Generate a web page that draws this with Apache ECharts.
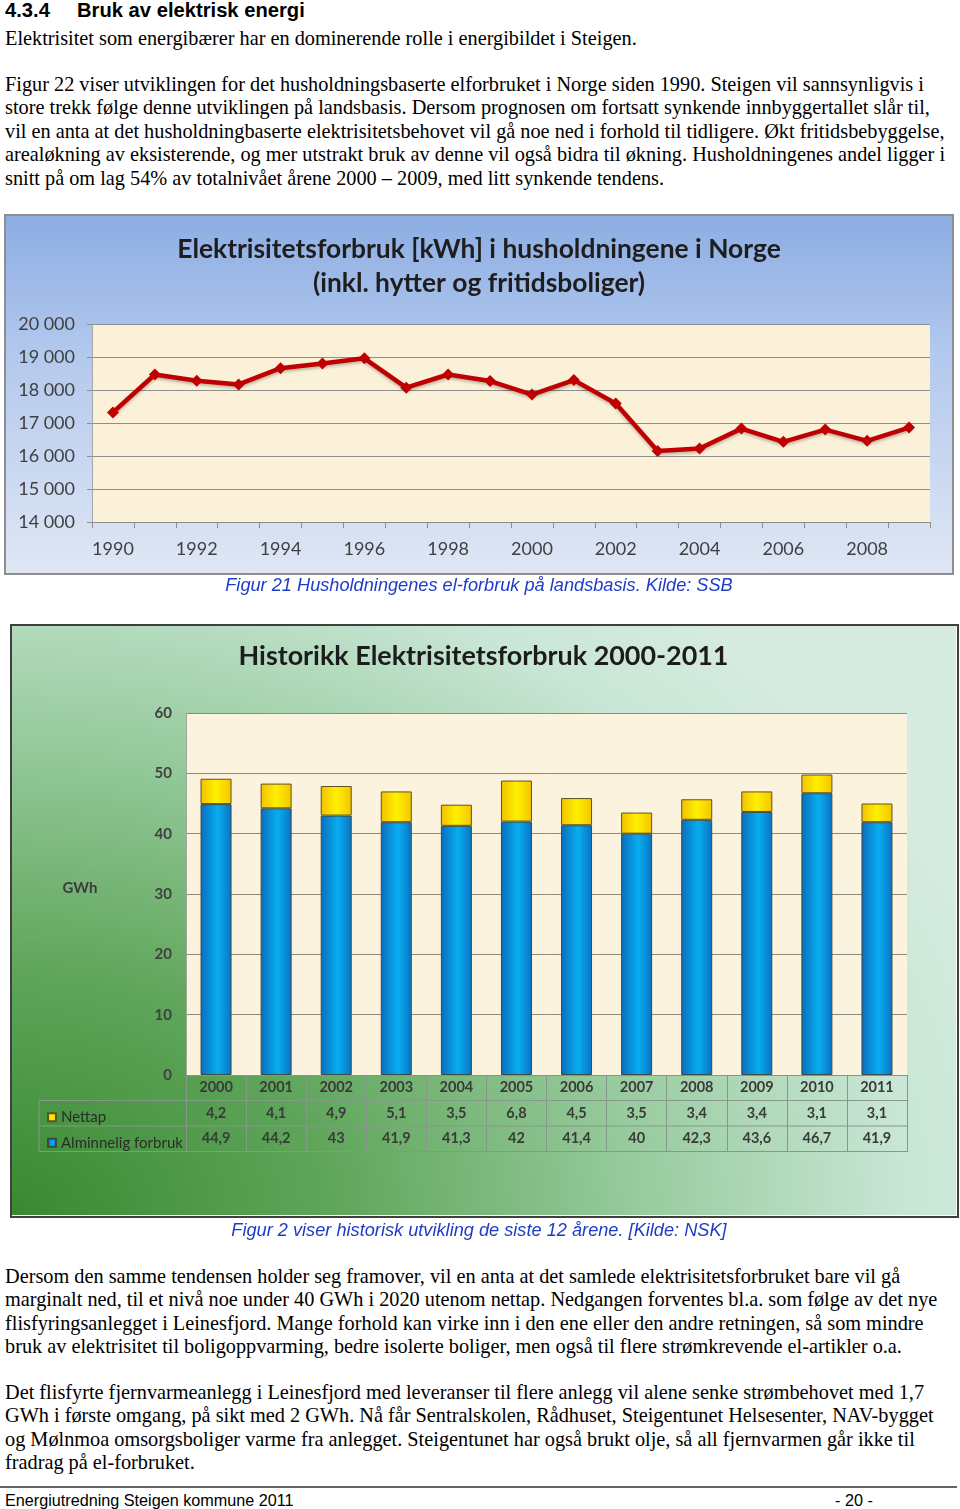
<!DOCTYPE html>
<html>
<head>
<meta charset="utf-8">
<script src="https://cdn.jsdelivr.net/npm/echarts@6/dist/echarts.min.js"></script>
<style>
  html, body { margin: 0; padding: 0; background: #fff; }
  body { position: relative; width: 960px; height: 1509px; overflow: hidden; }
  .abs { position: absolute; }
  .body-text { position: absolute; left: 5px; width: 950px; font-family: "Liberation Serif", "Times New Roman", serif; font-size: 20.3px; line-height: 23.4px; color: #000; white-space: nowrap; }
  .head { position: absolute; top: -1px; font-family: "Liberation Sans", Arial, sans-serif; font-weight: bold; font-size: 20.2px; line-height: 22px; color: #000; }
  .caption { position: absolute; left: 0; width: 958px; text-align: center; font-family: "Liberation Sans", Arial, sans-serif; font-style: italic; font-size: 18.2px; line-height: 22px; color: #1f3cc8; }
  .foot { position: absolute; top: 1490px; font-family: "Liberation Sans", Arial, sans-serif; font-size: 16.2px; line-height: 20px; color: #000; }
  #c1 { position: absolute; left: 5px; top: 215px; width: 948px; height: 359px; background: linear-gradient(180deg, #8cade3 0%, #b4c9ee 40%, #dfe7f4 100%); }
  #c1b { position: absolute; left: 4px; top: 214px; width: 946px; height: 357px; border: 2px solid #8e8e8e; pointer-events: none; }
  #c2 { position: absolute; left: 11px; top: 625px; width: 945px; height: 590px; background: radial-gradient(ellipse 1050px 800px at 0% 100%, #398931 0%, #5ea559 30%, #98cb9e 60%, #c8e6d5 85%, #d6ece0 100%); }
  #c2b { position: absolute; left: 10px; top: 624px; width: 945px; height: 590px; border: 2px solid #3f3f3f; pointer-events: none; }
</style>
</head>
<body>
<div class="head" style="left:5px;">4.3.4</div>
<div class="head" style="left:77px;">Bruk av elektrisk energi</div>

<div class="body-text" style="top:27px;">Elektrisitet som energibærer har en dominerende rolle i energibildet i Steigen.</div>

<div class="body-text" style="top:73px;">
<div>Figur 22 viser utviklingen for det husholdningsbaserte elforbruket i Norge siden 1990. Steigen vil sannsynligvis i</div>
<div>store trekk følge denne utviklingen på landsbasis. Dersom prognosen om fortsatt synkende innbyggertallet slår til,</div>
<div>vil en anta at det husholdningbaserte elektrisitetsbehovet vil gå noe ned i forhold til tidligere. Økt fritidsbebyggelse,</div>
<div>arealøkning av eksisterende, og mer utstrakt bruk av denne vil også bidra til økning. Husholdningenes andel ligger i</div>
<div>snitt på om lag 54% av totalnivået årene 2000 – 2009, med litt synkende tendens.</div>
</div>

<div id="c1"></div>
<div id="c1b"></div>
<div class="caption" style="top:574px;">Figur 21 Husholdningenes el-forbruk på landsbasis. Kilde: SSB</div>

<div id="c2"></div>
<div id="c2b"></div>
<div class="caption" style="top:1219px;">Figur 2 viser historisk utvikling de siste 12 årene. [Kilde: NSK]</div>

<div class="body-text" style="top:1265px;">
<div>Dersom den samme tendensen holder seg framover, vil en anta at det samlede elektrisitetsforbruket bare vil gå</div>
<div>marginalt ned, til et nivå noe under 40 GWh i 2020 utenom nettap. Nedgangen forventes bl.a. som følge av det nye</div>
<div>flisfyringsanlegget i Leinesfjord. Mange forhold kan virke inn i den ene eller den andre retningen, så som mindre</div>
<div>bruk av elektrisitet til boligoppvarming, bedre isolerte boliger, men også til flere strømkrevende el-artikler o.a.</div>
</div>

<div class="body-text" style="top:1381px;">
<div>Det flisfyrte fjernvarmeanlegg i Leinesfjord med leveranser til flere anlegg vil alene senke strømbehovet med 1,7</div>
<div>GWh i første omgang, på sikt med 2 GWh. Nå får Sentralskolen, Rådhuset, Steigentunet Helsesenter, NAV-bygget</div>
<div>og Mølnmoa omsorgsboliger varme fra anlegget. Steigentunet har også brukt olje, så all fjernvarmen går ikke til</div>
<div>fradrag på el-forbruket.</div>
</div>

<div class="abs" style="left:0;top:1486px;width:957px;height:2px;background:#666;"></div>
<div class="foot" style="left:5px;">Energiutredning Steigen kommune 2011</div>
<div class="foot" style="left:835px;">- 20 -</div>

<script>
// ---------- Data: chart 1 (Elektrisitetsforbruk i husholdningene i Norge) ----------
const years1 = ['1990','1991','1992','1993','1994','1995','1996','1997','1998','1999',
                '2000','2001','2002','2003','2004','2005','2006','2007','2008','2009'];
const use1 = [17320, 18470, 18280, 18170, 18660, 18800, 18960, 18070, 18470, 18270,
              17860, 18300, 17590, 16150, 16230, 16830, 16430, 16800, 16460, 16860];
const yMin1 = 14000, yMax1 = 20000, yStep1 = 1000;

// ---------- Data: chart 2 (Historikk Elektrisitetsforbruk 2000-2011) ----------
const years2 = ['2000','2001','2002','2003','2004','2005','2006','2007','2008','2009','2010','2011'];
const nettap = [4.2, 4.1, 4.9, 5.1, 3.5, 6.8, 4.5, 3.5, 3.4, 3.4, 3.1, 3.1];
const alminnelig = [44.9, 44.2, 43, 41.9, 41.3, 42, 41.4, 40, 42.3, 43.6, 46.7, 41.9];
const yMin2 = 0, yMax2 = 60, yStep2 = 10;

function thousands(v) { return String(v).replace(/\B(?=(\d{3})+(?!\d))/g, ' '); }
function comma(v) { return String(v).replace('.', ','); }

// ---------- Chart 1 ----------
const c1 = echarts.init(document.getElementById('c1'), null, { renderer: 'canvas' });
c1.setOption({
  animation: false,
  backgroundColor: 'transparent',
  title: {
    text: 'Elektrisitetsforbruk [kWh] i husholdningene i Norge\n(inkl. hytter og fritidsboliger)',
    left: 'center', top: 12,
    textStyle: { fontFamily: 'Lato', fontWeight: 'bold', fontSize: 26.4, lineHeight: 34, color: '#1e1e1e' }
  },
  grid: { left: 87, right: 23, top: 109, bottom: 52, show: true, backgroundColor: '#fbf1d8', borderWidth: 0 },
  xAxis: {
    type: 'category', data: years1, boundaryGap: true,
    axisLine: { lineStyle: { color: '#8c8c8c', width: 1 } },
    axisTick: { show: true, interval: 0, length: 6, lineStyle: { color: '#8c8c8c' } },
    axisLabel: { interval: 1, margin: 18, fontFamily: 'Lato', fontSize: 18, color: '#404040' }
  },
  yAxis: {
    type: 'value', min: yMin1, max: yMax1, interval: yStep1,
    axisLine: { show: true, lineStyle: { color: '#a8a8a8' } },
    axisTick: { show: true, length: 5, lineStyle: { color: '#8c8c8c' } },
    axisLabel: { margin: 17, fontFamily: 'Lato', fontSize: 18, color: '#404040', formatter: thousands },
    splitLine: { lineStyle: { color: '#8e8e8e', width: 1 } }
  },
  series: [{
    type: 'line', data: use1,
    symbol: 'diamond', symbolSize: 12,
    lineStyle: { color: '#c00000', width: 4.5, shadowColor: 'rgba(0,0,0,0.25)', shadowBlur: 3, shadowOffsetY: 2 },
    itemStyle: { color: '#c00000' }
  }]
});

// ---------- Chart 2 ----------
const blueGrad = new echarts.graphic.LinearGradient(0, 0, 1, 0, [
  { offset: 0, color: '#0a6cbc' }, { offset: 0.55, color: '#08aef0' }, { offset: 1, color: '#0a72c4' }
]);
const yellowGrad = new echarts.graphic.LinearGradient(0, 0, 1, 0, [
  { offset: 0, color: '#f2c000' }, { offset: 0.5, color: '#fff000' }, { offset: 1, color: '#f2c400' }
]);
const gridL = 175, gridR = 49, gridT = 88, gridB = 140, W2 = 945, H2 = 590;
const axisY = H2 - gridB;          // pixel row of the x axis
const rowH = 25.5;
const tableLeft = 28, tableRight = W2 - gridR;
const lineCol = '#86988a';

const c2 = echarts.init(document.getElementById('c2'), null, { renderer: 'canvas' });
c2.setOption({
  animation: false,
  backgroundColor: 'transparent',
  title: {
    text: 'Historikk Elektrisitetsforbruk 2000-2011',
    left: 'center', top: 13,
    textStyle: { fontFamily: 'Lato', fontWeight: 'bold', fontSize: 26.9, color: '#1c1c1c' }
  },
  legend: [
    { data: ['Nettap'], left: 31, top: axisY + rowH * 1.5 - 10, icon: 'rect', itemWidth: 8, itemHeight: 8, itemGap: 4,
      textStyle: { fontFamily: 'Lato', fontSize: 15, lineHeight: 18, color: '#2b2b2b' }, selectedMode: false },
    { data: ['Alminnelig forbruk'], left: 31, top: axisY + rowH * 2.5 - 10, icon: 'rect', itemWidth: 8, itemHeight: 8, itemGap: 4,
      textStyle: { fontFamily: 'Lato', fontSize: 15, lineHeight: 18, color: '#2b2b2b' }, selectedMode: false }
  ],
  grid: { left: gridL, right: gridR, top: gridT, bottom: gridB, show: true, backgroundColor: '#fcf3df', borderWidth: 0 },
  xAxis: {
    type: 'category', data: years2, boundaryGap: true,
    axisLine: { lineStyle: { color: lineCol, width: 1 } },
    axisTick: { show: true, interval: 0, length: rowH * 3 + 0.5, lineStyle: { color: lineCol } },
    axisLabel: {
      interval: 0, margin: 0,
      formatter: function (v, i) { return '{y|' + v + '}\n{v|' + comma(nettap[i]) + '}\n{v|' + comma(alminnelig[i]) + '}'; },
      rich: {
        y: { fontFamily: 'Lato', fontSize: 14.5, lineHeight: rowH, color: '#3a3a3a', fontWeight: 'bold' },
        v: { fontFamily: 'Lato', fontSize: 14.5, lineHeight: rowH, color: '#3a3a3a', fontWeight: 'bold' }
      }
    }
  },
  yAxis: {
    type: 'value', min: yMin2, max: yMax2, interval: yStep2,
    axisLine: { show: true, lineStyle: { color: '#a0a8a0' } },
    axisTick: { show: false },
    axisLabel: { margin: 14, fontFamily: 'Lato', fontSize: 15, fontWeight: 'bold', color: '#404040' },
    splitLine: { lineStyle: { color: '#8c8b7e', width: 1 } }
  },
  graphic: [
    { type: 'line', shape: { x1: tableLeft, y1: axisY + rowH, x2: tableRight, y2: axisY + rowH }, style: { stroke: lineCol, lineWidth: 1 } },
    { type: 'line', shape: { x1: tableLeft, y1: axisY + rowH * 2, x2: tableRight, y2: axisY + rowH * 2 }, style: { stroke: lineCol, lineWidth: 1 } },
    { type: 'line', shape: { x1: tableLeft, y1: axisY + rowH * 3, x2: tableRight, y2: axisY + rowH * 3 }, style: { stroke: lineCol, lineWidth: 1 } },
    { type: 'line', shape: { x1: tableLeft, y1: axisY + rowH, x2: tableLeft, y2: axisY + rowH * 3 }, style: { stroke: lineCol, lineWidth: 1 } },
    { type: 'text', x: 69, y: 263, style: { text: 'GWh', fill: '#3c3c3c', font: 'bold 15px Lato', align: 'center', verticalAlign: 'middle' } }
  ],
  series: [
    { name: 'Alminnelig forbruk', type: 'bar', stack: 'tot', barWidth: 31, data: alminnelig,
      itemStyle: { color: blueGrad, borderColor: '#3b4a44', borderWidth: 1 } },
    { name: 'Nettap', type: 'bar', stack: 'tot', barWidth: 31, data: nettap,
      itemStyle: { color: yellowGrad, borderColor: '#5e5222', borderWidth: 1 } }
  ]
});
</script>
</body>
</html>
